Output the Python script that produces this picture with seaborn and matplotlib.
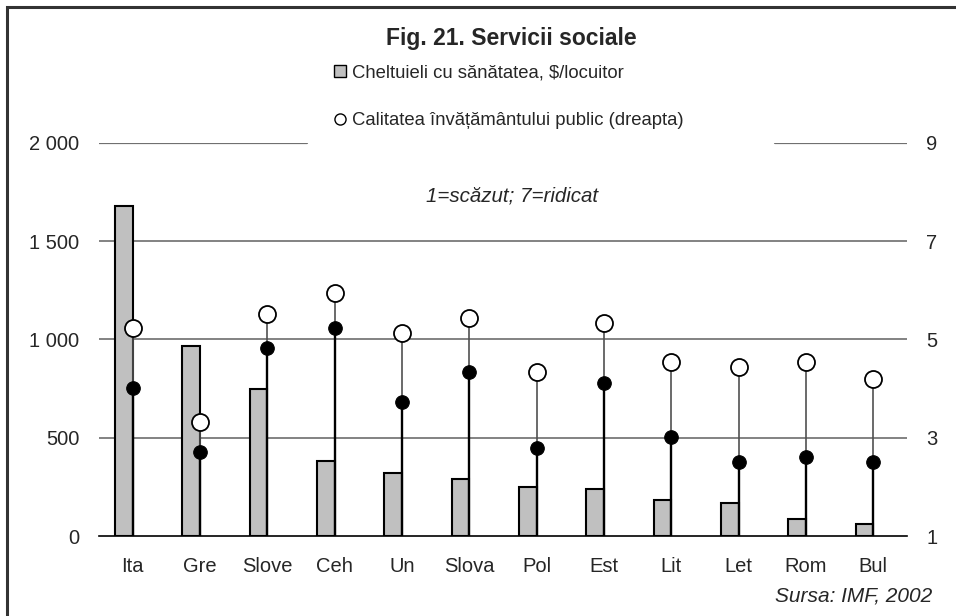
import numpy as np
import pandas as pd
import matplotlib
matplotlib.use("Agg")
import matplotlib.pyplot as plt
import seaborn as sns
from matplotlib.lines import Line2D
from matplotlib.patches import Rectangle

# ── Data ─────────────────────────────────────────────────────────────────────
countries   = ["Ita", "Gre", "Slove", "Ceh", "Un", "Slova",
               "Pol", "Est", "Lit", "Let", "Rom", "Bul"]
health_exp  = [1680, 965, 750, 383, 322, 288, 248, 239, 183, 168, 88, 63]   # $/locuitor (stanga)
edu_quality = [5.24, 3.31, 5.51, 5.94, 5.13, 5.43, 4.33, 5.33, 4.53, 4.44, 4.53, 4.19]  # cerc alb (dreapta)
edu_low     = [4.02, 2.70, 4.82, 5.24, 3.73, 4.33, 2.80, 4.12, 3.02, 2.51, 2.61, 2.51]  # punct negru (dreapta)

left_ticks   = [0, 500, 1000, 1500, 2000]
left_labels  = ["0", "500", "1 000", "1 500", "2 000"]
right_ticks  = [1, 3, 5, 7, 9]

TITLE  = "Fig. 21. Servicii sociale"
LEG1   = "Cheltuieli cu sănătatea, $/locuitor"
LEG2   = "Calitatea învățământului public (dreapta)"
NOTE   = "1=scăzut; 7=ridicat"
SOURCE = "Sursa: IMF, 2002"

# ── Style ────────────────────────────────────────────────────────────────────
sns.set_style("white")
plt.rcParams["font.family"] = ["Liberation Sans", "DejaVu Sans"]

df = pd.DataFrame({"tara": countries, "cheltuieli": health_exp,
                   "calitate": edu_quality, "low": edu_low})
xpos = np.arange(len(countries))

fig = plt.figure(figsize=(9.56, 6.16), dpi=100)
ax = fig.add_axes([99 / 956, 1 - 536 / 616, 808 / 956, (536 - 142.7) / 616])

BAR_W = 0.26
sns.barplot(data=df, x="tara", y="cheltuieli", ax=ax, width=BAR_W,
            color="#c0c0c0", edgecolor="black", linewidth=1.5, saturation=1)
# bara stă la stânga centrului categoriei
for p in ax.patches:
    p.set_x(p.get_x() - p.get_width() / 2)

ax.set_xlim(-0.5, len(countries) - 0.5)
ax.set_ylim(0, 2000)
ax.set_yticks(left_ticks)
ax.set_yticklabels(left_labels)
ax.set_xlabel("")
ax.set_ylabel("")
for s in ["left", "right", "top"]:
    ax.spines[s].set_visible(False)
ax.spines["bottom"].set_color("black")
ax.spines["bottom"].set_linewidth(1.2)

# gridlines
for v in left_ticks[1:-1]:
    ax.axhline(v, color="#606060", lw=1.1, zorder=0)
ax.axhline(2000, xmin=0, xmax=208 / 808, color="#707070", lw=1.6, zorder=0)
ax.axhline(2000, xmin=676 / 808, xmax=1, color="#707070", lw=1.6, zorder=0)

ax.tick_params(axis="y", length=0, pad=14, labelsize=14.5)
ax.tick_params(axis="x", which="major", length=0, pad=15, labelsize=14.5)
ax.set_xticks(np.arange(-0.5, len(countries), 1), minor=True)
ax.tick_params(axis="x", which="minor", direction="inout", length=13,
               width=1, color="black")

# ── Axa dreapta ──────────────────────────────────────────────────────────────
ax2 = ax.twinx()
ax2.set_ylim(1, 9)
ax2.set_yticks(right_ticks)
ax2.tick_params(axis="y", length=0, pad=14, labelsize=14.5)
for s in ax2.spines.values():
    s.set_visible(False)

ax2.vlines(xpos, 1, df["low"], color="black", lw=1.7, zorder=2)
ax2.vlines(xpos, df["low"], df["calitate"], color="#505050", lw=1.2, zorder=2)
sns.scatterplot(x=xpos, y=df["low"], ax=ax2, color="black", s=95,
                edgecolor="black", linewidth=0.8, zorder=3, legend=False)
sns.scatterplot(x=xpos, y=df["calitate"], ax=ax2, color="white", s=150,
                edgecolor="black", linewidth=1.3, zorder=3, legend=False)
ax2.set_xlim(-0.5, len(countries) - 0.5)
ax2.set_ylabel("")

# ── Texte ────────────────────────────────────────────────────────────────────
fig.text(511 / 956, 1 - 38 / 616, TITLE, ha="center", va="center",
         fontsize=16.5, fontweight="bold")

handles = [
    Line2D([], [], marker="s", ls="", markersize=8, markerfacecolor="#c0c0c0",
           markeredgecolor="black", markeredgewidth=1),
    Line2D([], [], marker="o", ls="", markersize=8, markerfacecolor="white",
           markeredgecolor="black", markeredgewidth=1),
]
fig.legend(handles, [LEG1, LEG2], loc="upper left",
           bbox_to_anchor=(334 / 956, 1 - 64 / 616), frameon=False,
           fontsize=13.3, handlelength=0.7, handletextpad=0.3,
           labelspacing=1.7, borderpad=0, borderaxespad=0)

fig.text(512 / 956, 1 - 196 / 616, NOTE, ha="center", va="center",
         fontsize=14.8, style="italic")
fig.text(932 / 956, 1 - 596 / 616, SOURCE, ha="right", va="center",
         fontsize=15, style="italic")

# chenar (doar stânga și sus sunt vizibile)
fig.add_artist(Rectangle((7 / 956, -0.2), 1.2, 1.2 - 7 / 616,
                         transform=fig.transFigure, fill=False,
                         edgecolor="#333333", lw=2.2))

fig.savefig("out.png", dpi=100, facecolor="white")
